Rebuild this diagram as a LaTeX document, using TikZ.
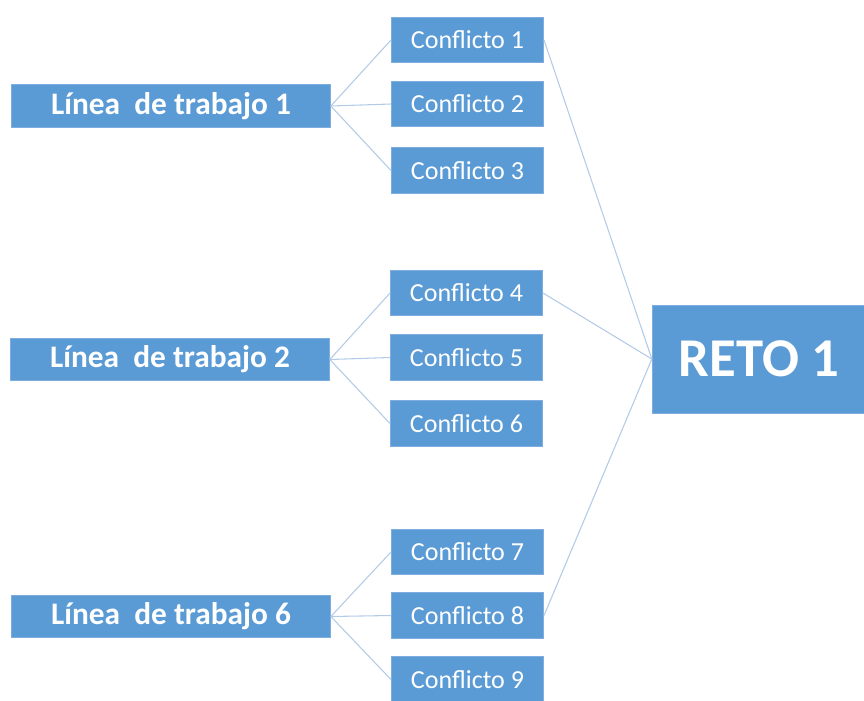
\documentclass[tikz,border=0pt]{standalone}
\usepackage{fontspec}
\setmainfont{Carlito}
\usetikzlibrary{positioning}
\definecolor{cbox}{HTML}{5B9BD5}
\definecolor{cedge}{HTML}{7EAEDF}
\definecolor{cline}{HTML}{B3CBE6}
\tikzset{
  every picture/.style={line width=0.75pt},
  box/.style={draw=cedge, fill=cbox, text=white, inner sep=2pt, align=center},
  linebox/.style={box, font=\bfseries\fontsize{23.5}{27}\selectfont, minimum width=239pt, minimum height=32pt},
  conflict/.style={box, font=\fontsize{19.5}{23}\selectfont, minimum width=114pt, minimum height=34pt},
  goal/.style={box, font=\bfseries\fontsize{41}{48}\selectfont, minimum width=160pt, minimum height=81pt},
  link/.style={draw=cline, line width=0.8pt},
}
\begin{document}
\begin{tikzpicture}[x=0.75pt, y=-0.75pt]
  \useasboundingbox (0,0) rectangle (864,700);
  % lines of work
  \node[linebox] (L1) at (171, 106) {Línea\ \ de trabajo 1};
  \node[linebox] (L2) at (170, 359.5) {Línea\ \ de trabajo 2};
  \node[linebox] (L6) at (171, 616.5) {Línea\ \ de trabajo 6};
  % conflicts
  \node[conflict] (C1) at (467.5, 40) {Conflicto 1};
  \node[conflict] (C2) at (467.5, 104) {Conflicto 2};
  \node[conflict] (C3) at (467.5, 170.5) {Conflicto 3};
  \node[conflict] (C4) at (466.5, 293) {Conflicto 4};
  \node[conflict] (C5) at (466.5, 357.5) {Conflicto 5};
  \node[conflict] (C6) at (466.5, 423.5) {Conflicto 6};
  \node[conflict] (C7) at (467.5, 552) {Conflicto 7};
  \node[conflict] (C8) at (467.5, 615.5) {Conflicto 8};
  \node[conflict] (C9) at (467.5, 679.5) {Conflicto 9};
  % challenge
  \node[goal] (R) at (759, 359) {RETO 1};
  % connectors
  \draw[link] (L1.east) -- (C1.west);
  \draw[link] (L1.east) -- (C2.west);
  \draw[link] (L1.east) -- (C3.west);
  \draw[link] (L2.east) -- (C4.west);
  \draw[link] (L2.east) -- (C5.west);
  \draw[link] (L2.east) -- (C6.west);
  \draw[link] (L6.east) -- (C7.west);
  \draw[link] (L6.east) -- (C8.west);
  \draw[link] (L6.east) -- (C9.west);
  \draw[link] (C1.east) -- (R.west);
  \draw[link] (C4.east) -- (R.west);
  \draw[link] (C8.east) -- (R.west);
\end{tikzpicture}
\end{document}
